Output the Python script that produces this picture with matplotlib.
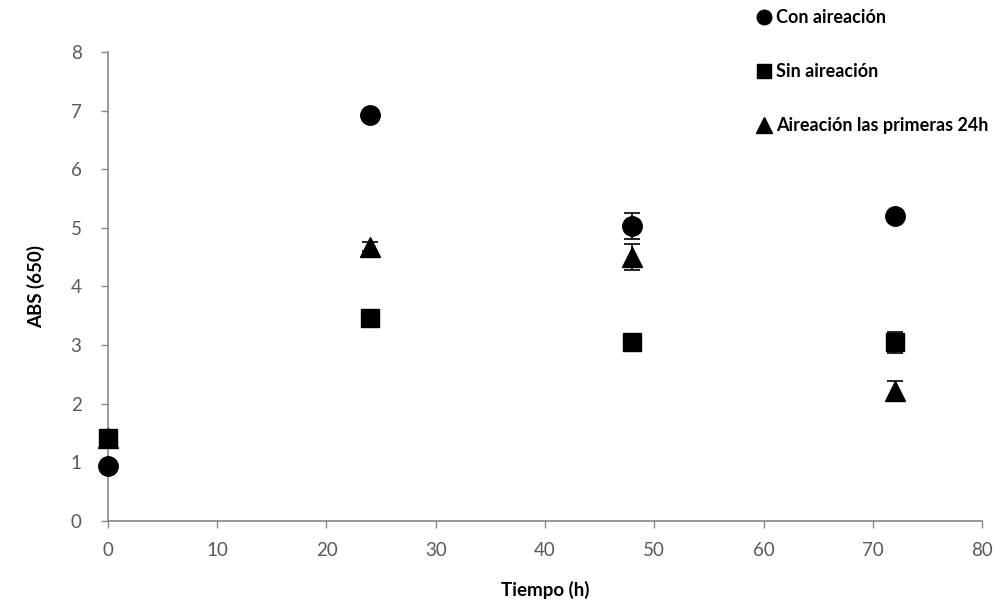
import matplotlib.pyplot as plt
from matplotlib.lines import Line2D

TIME_H = [0, 24, 48, 72]

CON_AIRE = [0.94, 6.93, 5.03, 5.21]
CON_AIRE_ERR = [0.03, 0.05, 0.22, 0.05]

SIN_AIRE = [1.42, 3.46, 3.05, 3.05]
SIN_AIRE_ERR = [0.03, 0.04, 0.04, 0.18]

AIRE_24H = [1.42, 4.68, 4.50, 2.22]
AIRE_24H_ERR = [0.03, 0.08, 0.22, 0.16]

LABELS = ["Con aireación", "Sin aireación", "Aireación las primeras 24h"]

FONT = ["Lato", "DejaVu Sans"]
GRAY = "#595959"

fig = plt.figure(figsize=(9.96, 6.14), dpi=100, facecolor="white")
ax = fig.add_axes([0.1084, 0.1515, 0.8776, 0.7638])

series = [
    (CON_AIRE, CON_AIRE_ERR, "o", 14),
    (SIN_AIRE, SIN_AIRE_ERR, "s", 13),
    (AIRE_24H, AIRE_24H_ERR, "^", 15),
]
handles = []
for (vals, errs, marker, ms), label in zip(series, LABELS):
    ax.errorbar(TIME_H, vals, yerr=errs, fmt=marker, color="black", markersize=ms,
                ecolor="black", elinewidth=1.2, capsize=6, capthick=1.2, zorder=3)
    handles.append(Line2D([], [], marker=marker, linestyle="none", color="black",
                          markersize=ms * 0.75, label=label))

ax.set_xlim(0, 80)
ax.set_ylim(0, 8)
ax.set_xticks(range(0, 81, 10))
ax.set_yticks(range(0, 9))
ax.spines["top"].set_visible(False)
ax.spines["right"].set_visible(False)
for side in ("left", "bottom"):
    ax.spines[side].set_color("#868686")
    ax.spines[side].set_linewidth(1.2)
ax.tick_params(direction="out", length=5, width=1, color="#868686",
               labelcolor=GRAY, labelsize=13.5)
ax.tick_params(axis="y", pad=14)
ax.tick_params(axis="x", pad=10)
for lbl in ax.get_xticklabels() + ax.get_yticklabels():
    lbl.set_family(FONT)
for child in ax.get_children():
    child.set_clip_on(False)

ax.set_xlabel("Tiempo (h)", fontsize=13.5, fontweight="bold", family=FONT, labelpad=16)
ax.set_ylabel("ABS (650)", fontsize=13.5, fontweight="bold", family=FONT, labelpad=18)

fig.legend(handles=handles, loc="upper left", bbox_to_anchor=(0.744, 1.012),
           frameon=False, handletextpad=0.25, handlelength=0.8, labelspacing=2.05,
           prop={"family": FONT, "weight": "bold", "size": 13})

fig.savefig("out.png", dpi=100, facecolor="white")
